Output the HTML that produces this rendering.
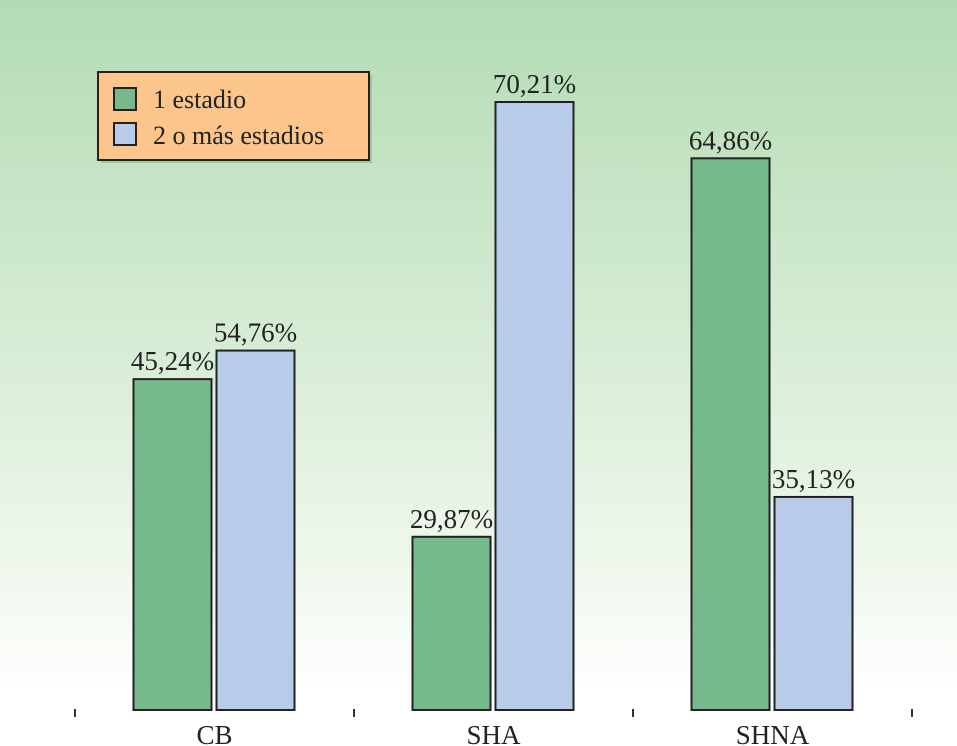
<!DOCTYPE html>
<html><head><meta charset="utf-8"><style>
html,body{margin:0;padding:0}
body{width:957px;height:746px;overflow:hidden;background:linear-gradient(to bottom,#b3dbb4 0%,#d6ecd4 45%,#f3f9f1 80%,#fff 93%,#fff 100%);font-family:"Liberation Serif",serif;}
svg{position:absolute;left:0;top:0;font-family:"Liberation Serif",serif}
text{font-family:"Liberation Serif",serif}
</style></head><body>
<svg id="chart" width="957" height="746" font-family="Liberation Serif, serif">
<g>
<rect x="101" y="75" width="271" height="88" fill="#6a8f6c" opacity="0.35"/>
<rect x="98" y="72" width="271" height="88" fill="#fcc58c" stroke="#222" stroke-width="2"/>
<rect x="114" y="88" width="22" height="22" fill="#76b98d" stroke="#222" stroke-width="2"/>
<text x="153" y="108" font-size="26" fill="#222">1 estadio</text>
<rect x="114" y="123" width="22" height="22" fill="#b8cce9" stroke="#222" stroke-width="2"/>
<text x="153" y="144" font-size="26" fill="#222">2 o más estadios</text>
</g>
</svg>
<script>
const categories = ["CB", "SHA", "SHNA"];
const series1 = [38.2, 20.0, 63.7];
const series2 = [41.5, 70.2, 24.6];
const labels1 = ["45,24%", "29,87%", "64,86%"];
const labels2 = ["54,76%", "70,21%", "35,13%"];

const svg = document.getElementById('chart');
const NS = 'http://www.w3.org/2000/svg';
const baseY = 710, plotLeft = 75, groupW = 279;
const yScale = v => baseY - v * (608 / 70.2);
const xGroup = i => plotLeft + groupW * i;
function mk(tag, attrs){const e=document.createElementNS(NS,tag);for(const k in attrs)e.setAttribute(k,attrs[k]);svg.appendChild(e);return e;}
for (let i = 0; i <= categories.length; i++) {
  const t = mk('line',{x1:xGroup(i),x2:xGroup(i),y1:709,y2:717,stroke:'#333','stroke-width':2});
  
  
}
categories.forEach((c, i) => {
  const cx = xGroup(i) + groupW / 2;
  const vals = [series1[i], series2[i]], labs = [labels1[i], labels2[i]];
  const fills = ['#76b98d', '#b8cce9'];
  vals.forEach((v, j) => {
    const x = cx - 81 + j * 83;
    const y = yScale(v);
    const r = mk('rect',{x:x,y:y,width:78,height:baseY - y,fill:fills[j],stroke:'#222','stroke-width':2});
    
    
    const t = mk('text',{x:x + 39,y:y - 9,'text-anchor':'middle','font-size':27,fill:'#222'});
    t.textContent = labs[j];
    
    
  });
  const l = mk('text',{x:cx,y:744,'text-anchor':'middle','font-size':27,fill:'#222'});
  l.textContent = c;
  
  
});
</script>
</body></html>
